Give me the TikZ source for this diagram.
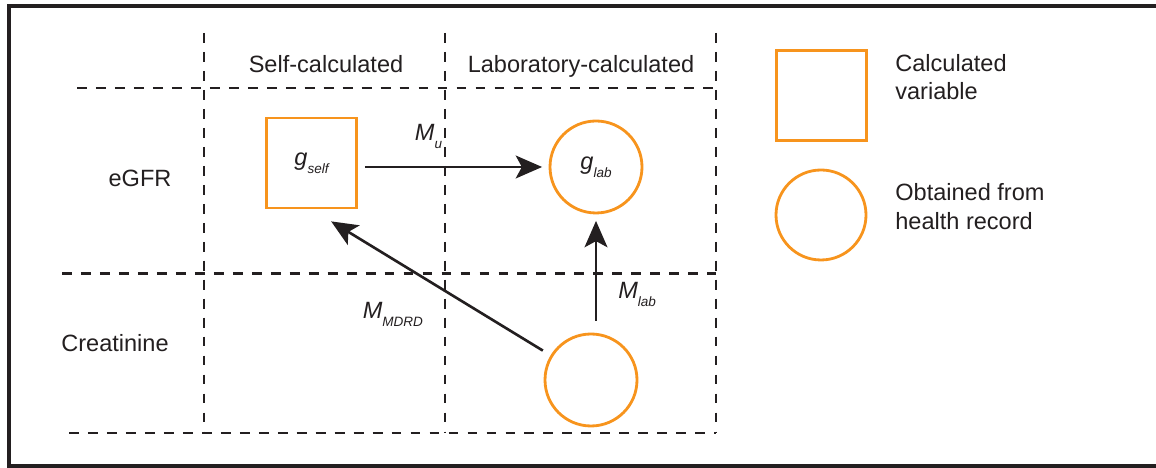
\documentclass[tikz,border=0pt]{standalone}
\usepackage{fontspec}
\setmainfont{Liberation Sans}
\usepackage{xcolor}
\usetikzlibrary{arrows.meta}
\usetikzlibrary{positioning}
\definecolor{ink}{HTML}{231F20}
\definecolor{orng}{HTML}{F7941D}
\newcommand{\lowsub}[1]{\raisebox{-4.5pt}{\fontsize{7.7}{8}\selectfont\itshape #1}}

\begin{document}
\begin{tikzpicture}
  \tikzset{calcvar/.style = {shape=rectangle,draw=orng,line width=1.6pt,minimum size=1.8cm,inner sep=0pt,text=ink,font=\fontsize{13.4}{16.5}\selectfont}}
  \tikzset{recvar/.style = {shape=circle,draw=orng,line width=1.6pt,minimum size=1.84cm,inner sep=0pt,text=ink,font=\fontsize{13.4}{16.5}\selectfont}}
  \tikzset{cellline/.style = {draw=ink,line width=1.6pt,dash pattern=on 5.6pt off 5.2pt}}
  \tikzset{edge/.style = {-{Stealth[length=15pt,width=13pt,inset=3.5pt]},draw=ink,line width=1.5pt}}
  \tikzset{lbl/.style = {text=ink,inner sep=0pt,font=\fontsize{13.4}{16.5}\selectfont\itshape}}
  \tikzset{txt/.style = {text=ink,inner sep=0pt,align=left,font=\fontsize{13.4}{16.3}\selectfont}}

  \useasboundingbox (0,0) rectangle (23.12,9.36);
  \draw[ink,line width=2pt] (23.3,9.24) -- (0.18,9.24) -- (0.18,0.04) -- (23.3,0.04);

  % table
  \foreach \x in {4.08,8.9,14.32}
    \draw[cellline] (\x,8.7) -- (\x,0.7);
  \foreach \x/\y in {1.54/7.6,1.24/3.89,1.38/0.7}
    \draw[cellline] (\x,\y) -- (14.32,\y);

  \node[txt,anchor=base] (selfhd) at (6.52,7.9) {Self-calculated};
  \node[txt,anchor=base] (labhd) at (11.62,7.9) {Laboratory-calculated};
  \node[txt,anchor=base] (egfrrow) at (2.8,5.63) {eGFR};
  \node[txt,anchor=base] (creatrow) at (2.3,2.33) {Creatinine};

  \node[calcvar] (gself) at (6.23,6.1) {\textit{g}\lowsub{self}};
  \node[recvar] (glab) at (11.92,6.02) {\textit{g}\lowsub{lab}};
  \node[recvar] (creatobs) at (11.82,1.76) {};

  \draw[edge,shorten <=0.14cm,shorten >=0.13cm] (gself.east |- glab) -- node[lbl,pos=0.37,above=0.34cm]{M\lowsub{u}} (glab);
  \draw[edge,shorten <=0.24cm,shorten >=0.13cm] (glab |- creatobs.north) -- node[lbl,pos=0.32,right=0.42cm]{M\lowsub{lab}} (glab.south);
  \draw[edge,shorten <=0.18cm,shorten >=0.46cm] (creatobs) -- node[lbl,pos=0.557,xshift=-0.49cm,yshift=-0.8cm]{M\lowsub{MDRD}} (gself.south);

  % legend
  \node[calcvar] (keysq) at (16.43,7.45) {};
  \node[recvar,minimum size=1.8cm] (keycirc) at (16.42,5.06) {};
  \node[txt,anchor=west] (keysqtxt) at (17.9,7.82) {Calculated\\variable};
  \node[txt,anchor=west] (keycirctxt) at (17.9,5.23) {Obtained from\\health record};

\end{tikzpicture}
\end{document}
